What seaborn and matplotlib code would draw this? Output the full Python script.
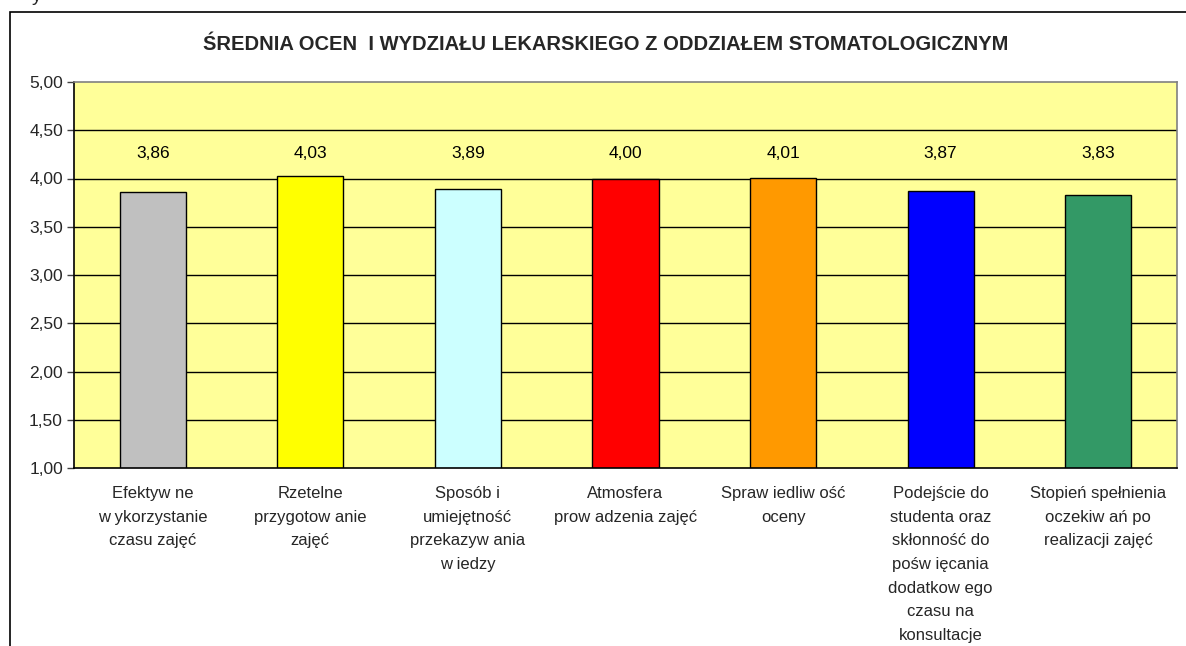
import numpy as np
import pandas as pd
import seaborn as sns
import matplotlib.pyplot as plt
from matplotlib.patches import Rectangle

title = "ŚREDNIA OCEN  I WYDZIAŁU LEKARSKIEGO Z ODDZIAŁEM STOMATOLOGICZNYM"

categories = [
    "Efektyw ne\nw ykorzystanie\nczasu zajęć",
    "Rzetelne\nprzygotow anie\nzajęć",
    "Sposób i\numiejętność\nprzekazyw ania\nw iedzy",
    "Atmosfera\nprow adzenia zajęć",
    "Spraw iedliw ość\noceny",
    "Podejście do\nstudenta oraz\nskłonność do\npośw ięcania\ndodatkow ego\nczasu na\nkonsultacje",
    "Stopień spełnienia\noczekiw ań po\nrealizacji zajęć",
]
values = [3.86, 4.03, 3.89, 4.00, 4.01, 3.87, 3.83]
bar_colors = ["#C0C0C0", "#FFFF00", "#CCFFFF", "#FF0000", "#FF9900",
              "#0000FF", "#339966"]
y_ticks = [1.0, 1.5, 2.0, 2.5, 3.0, 3.5, 4.0, 4.5, 5.0]

df = pd.DataFrame({"category": categories, "value": values})

sns.set_style("white")
plt.rcParams["font.family"] = ["Liberation Sans", "DejaVu Sans"]

fig = plt.figure(figsize=(11.86, 6.46), dpi=100)
ax = fig.add_axes([74 / 1186, 1 - 468 / 646, 1103 / 1186, 386 / 646])
ax.set_facecolor("#FFFF99")

ax.set_axisbelow(True)
for t in y_ticks[1:-1]:
    ax.axhline(t, color="black", linewidth=1, zorder=0)

sns.barplot(data=df, x="category", y="value", hue="category",
            palette=bar_colors, saturation=1, width=0.42, edgecolor="black",
            linewidth=1, legend=False, ax=ax, zorder=2)

# value labels sit at a common height above the bars
for i, v in enumerate(values):
    ax.text(i, 4.26, "{:.2f}".format(v).replace(".", ","), ha="center",
            va="center", fontsize=12.5, color="black")

ax.set_ylim(1, 5)
ax.set_xlim(-0.5, len(categories) - 0.5)
ax.set_yticks(y_ticks)
ax.set_yticklabels(["{:.2f}".format(t).replace(".", ",") for t in y_ticks],
                   fontsize=12.5)
ax.set_xticks(np.arange(len(categories)))
ax.set_xticklabels(categories, fontsize=12, linespacing=1.72, va="top")
ax.tick_params(axis="x", length=0, pad=13)
ax.set_xticks(np.arange(-0.5, len(categories)), minor=True)
ax.tick_params(axis="x", which="minor", length=5, width=1, color="#404040",
               direction="out")
ax.tick_params(axis="y", length=5, width=1, color="#404040", direction="out",
               left=True, pad=3)
ax.set_xlabel("")
ax.set_ylabel("")

ax.spines["left"].set_color("black")
ax.spines["bottom"].set_color("black")
ax.spines["top"].set_color("#808080")
ax.spines["right"].set_color("#808080")
for s in ax.spines.values():
    s.set_linewidth(1.2)

fig.text(606 / 1186, 1 - 44 / 646, title, ha="center", va="center",
         fontsize=14.5, fontweight="bold")

# outer chart frame, running off the right and bottom edges
fig.patches.append(Rectangle((9.5 / 1186, -0.1), 1.2, 1 - 12 / 646 + 0.1,
                             transform=fig.transFigure, fill=False,
                             edgecolor="black", linewidth=1.2))
fig.text(32 / 1186, 1 - 1 / 646, "y", fontsize=14, va="baseline")

fig.savefig("out.png", dpi=100)
